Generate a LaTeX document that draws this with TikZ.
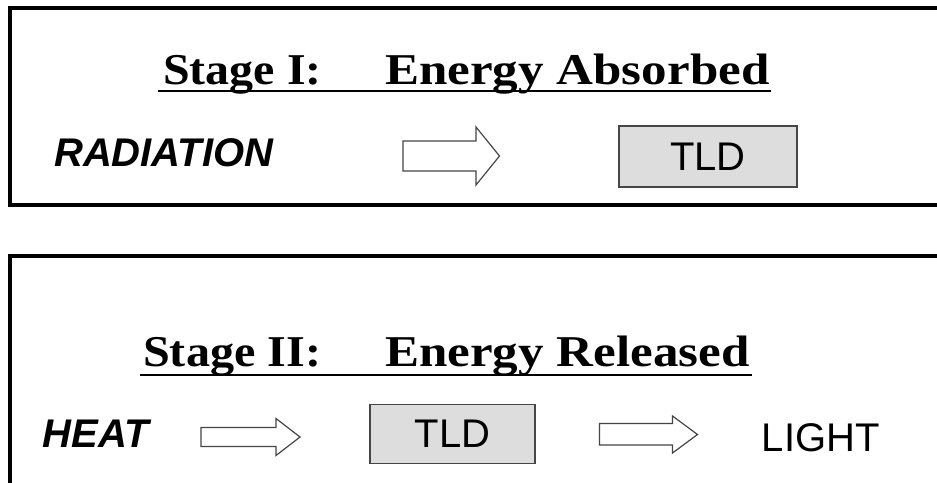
\documentclass[tikz,border=0pt]{standalone}
\usepackage{fontspec}
\usepackage{graphicx}
\newfontfamily\arialf{Liberation Sans}
\newfontfamily\timesf{Liberation Serif}
\newcommand\widetitle[2]{\scalebox{#1}[1]{#2}}
\definecolor{tldfill}{RGB}{221,221,221}
\definecolor{edgegray}{RGB}{70,70,70}
\begin{document}
\begin{tikzpicture}[x=1pt,y=-1pt,
  panel/.style={line width=4pt,black},
  title/.style={anchor=base west,inner sep=0pt,font=\timesf\bfseries\fontsize{44}{50}\selectfont},
  uline/.style={line width=2.3pt},
  label/.style={anchor=base west,inner sep=0pt,font=\arialf\fontsize{40}{44}\selectfont},
  ilabel/.style={label,font=\arialf\bfseries\itshape\fontsize{40}{44}\selectfont},
  tldbox/.style={draw=edgegray,line width=1.3pt,fill=tldfill,inner sep=0pt,font=\arialf\fontsize{40}{44}\selectfont},
  blockarrow/.style={draw=edgegray,line width=1.2pt,fill=white,line join=miter}]
\useasboundingbox (0,0) rectangle (937,482);
\clip (0,0) rectangle (937,482);
\fill[white] (0,0) rectangle (937,482);
% panels
\draw[panel] (960,8) -- (9.5,8) -- (9.5,205) -- (960,205);
\draw[panel] (960,256) -- (9.5,256) -- (9.5,500);
% stage I
\node[title] (s1) at (163,84.3) {\widetitle{1.09}{Stage I:}};
\node[title] (e1) at (385,84.3) {\widetitle{1.16}{Energy Absorbed}};
\draw[uline] (158,91) -- (771,91);
\node[ilabel] (rad) at (54,166.7) {RADIATION};
\draw[blockarrow] (403,141) -- (476,141) -- (476,127) -- (499.5,156) -- (476,185) -- (476,171) -- (403,171) -- cycle;
\node[tldbox,minimum width=178pt,minimum height=61pt] (tld1) at (708,156.5) {TLD};
% stage II
\node[title] (s2) at (143,366.7) {\widetitle{1.095}{Stage II:}};
\node[title] (e2) at (385,366.7) {\widetitle{1.16}{Energy Released}};
\draw[uline] (140,375) -- (752,375);
\node[ilabel] (heat) at (42.7,447.3) {HEAT};
\draw[blockarrow] (201,427.5) -- (276,427.5) -- (276,418.5) -- (300,437) -- (276,455.5) -- (276,446.5) -- (201,446.5) -- cycle;
\node[tldbox,minimum width=165pt,minimum height=59pt] (tld2) at (452.5,433.7) {TLD};
\draw[blockarrow] (599.5,423.5) -- (672.5,423.5) -- (672.5,416) -- (697.5,434.5) -- (672.5,453) -- (672.5,445) -- (599.5,445) -- cycle;
\node[label] (light) at (761.7,451) {LIGHT};
\end{tikzpicture}
\end{document}
